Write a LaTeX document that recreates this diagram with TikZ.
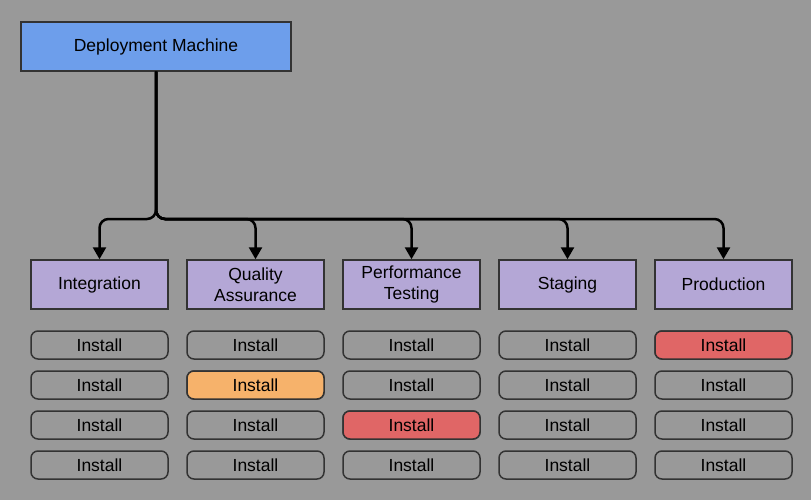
\documentclass[tikz,border=0pt]{standalone}
\usepackage{fontspec}
\setmainfont{Liberation Sans}
\usetikzlibrary{arrows.meta}
\definecolor{bg}{HTML}{999999}
\definecolor{topblue}{HTML}{6D9EEB}
\definecolor{lav}{HTML}{B4A7D6}
\definecolor{orng}{HTML}{F6B26B}
\definecolor{redc}{HTML}{E06666}
\definecolor{edgec}{HTML}{333333}
\tikzset{
  topbox/.style={draw=edgec,line width=1.5pt,fill=topblue,minimum width=270pt,minimum height=49pt,inner sep=0pt,font=\fontsize{17.5}{20}\selectfont},
  envbox/.style={draw=edgec,line width=1.5pt,fill=lav,minimum width=137pt,minimum height=49pt,inner sep=0pt,align=center,font=\fontsize{17.5}{20.5}\selectfont},
  inst/.style={draw=edgec,line width=1.5pt,rounded corners=7pt,minimum width=137pt,minimum height=28pt,inner sep=0pt,font=\fontsize{17.5}{20}\selectfont},
  conn/.style={line width=2.5pt,rounded corners=9pt,-{Triangle[width=13pt,length=12pt]}}
}
\begin{document}
\begin{tikzpicture}[x=1pt,y=-1pt]
\fill[bg] (0,0) rectangle (811,500);
\useasboundingbox (0,0) rectangle (811,500);
\node[topbox] (dm) at (156,46.5) {Deployment Machine};
\node[envbox] (e1) at (99.5,284.5) {Integration};
\node[envbox] (e2) at (255.5,284.5) {Quality\\Assurance};
\node[envbox] (e3) at (411.5,284.5) {Performance\\Testing};
\node[envbox] (e4) at (567.5,284.5) {Staging};
\node[envbox] (e5) at (723.5,284.5) {Production};
\foreach \c/\x in {1/99.5,2/255.5,3/411.5,4/567.5,5/723.5}{
  \foreach \r/\y in {1/345,2/385,3/425,4/465}{
    \node[inst] (i\c\r) at (\x,\y) {Install};
  }
}
\node[inst,fill=orng] at (i22) {Install};
\node[inst,fill=redc] at (i33) {Install};
\node[inst,fill=redc] at (i51) {Install};
\coordinate (tr) at (156,219);
\foreach \k in {1,...,5}{
  \draw[conn] (dm.south) -- (tr) -| (e\k.north);
}
\end{tikzpicture}
\end{document}
